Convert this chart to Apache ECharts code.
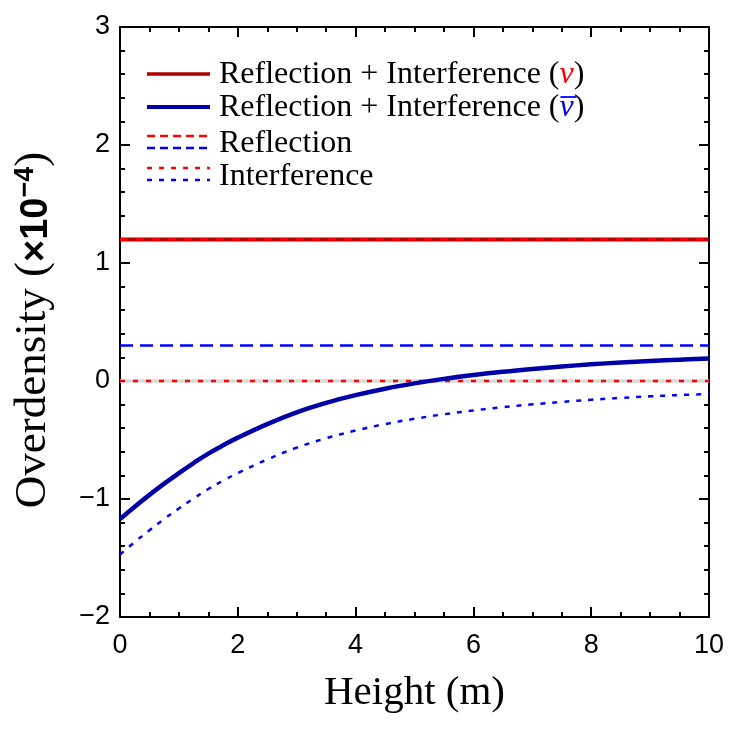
<!DOCTYPE html>
<html>
<head>
<meta charset="utf-8">
<script src="https://cdn.jsdelivr.net/npm/echarts@6/dist/echarts.min.js"></script>
<style>html,body{margin:0;padding:0;background:#fff}#c{width:747px;height:737px}</style>
</head>
<body>
<div id="c"></div>
<script>
// ---- data ----
var heights = [0,0.25,0.5,0.75,1,1.25,1.5,1.75,2,2.5,3,3.5,4,4.5,5,5.5,6,6.5,7,7.5,8,8.5,9,9.5,10];
var totalAntiNu = [-1.17,-1.065,-0.965,-0.87,-0.78,-0.695,-0.615,-0.545,-0.48,-0.365,-0.265,-0.185,-0.12,-0.065,-0.02,0.018,0.05,0.078,0.102,0.123,0.141,0.157,0.17,0.181,0.19];
var interferenceAntiNu = [-1.47,-1.365,-1.265,-1.17,-1.08,-0.995,-0.915,-0.845,-0.78,-0.665,-0.565,-0.485,-0.42,-0.365,-0.32,-0.282,-0.25,-0.222,-0.198,-0.177,-0.159,-0.143,-0.13,-0.119,-0.11];
var flatX = [0, 10];
var totalNu = [1.2, 1.2];
var reflectionNu = [1.2, 1.2];
var interferenceNu = [0, 0];
var reflectionAntiNu = [0.3, 0.3];
var zeroLine = [0, 0];
var xTicks = {min: 0, max: 10, interval: 2};
var yTicks = {min: -2, max: 3, interval: 1};

function pairs(xs, ys) { return xs.map(function (x, i) { return [x, ys[i]]; }); }

var chart = echarts.init(document.getElementById('c'));
var serif = 'Liberation Serif';
var sans = 'Liberation Sans';

function axisCommon(extra) {
  var o = {
    type: 'value',
    axisLine: {show: true, onZero: false, lineStyle: {color: '#000', width: 2}},
    axisTick: {show: true, inside: true, length: 10, lineStyle: {color: '#000', width: 2}},
    splitLine: {show: false},
    minorSplitLine: {show: false}
  };
  for (var k in extra) o[k] = extra[k];
  return o;
}
function minus(v) { return v < 0 ? '\u2212' + Math.abs(v) : String(v); }

var legendFont = 32;
var legendY = [75, 108, 144, 177];
var lx1 = 147, lx2 = 210, tx = 219;

// measure where the nu-bar glyph sits, to put its overline above it
var mctx = document.createElement('canvas').getContext('2d');
mctx.font = legendFont + 'px "Liberation Serif"';
var preW = mctx.measureText('Reflection + Interference (').width;
mctx.font = 'italic ' + legendFont + 'px "Liberation Serif"';
var nuW = mctx.measureText('\u03BD').width;

var option = {
  animation: false,
  backgroundColor: '#fff',
  grid: {left: 120, right: 38, top: 27, bottom: 120},
  xAxis: [
    axisCommon({min: xTicks.min, max: xTicks.max, interval: xTicks.interval, position: 'bottom',
      minorTick: {show: true, splitNumber: 4, length: 5, lineStyle: {color: '#000', width: 2}},
      axisLabel: {fontFamily: sans, fontSize: 27, color: '#000', margin: 15},
      name: 'Height (m)', nameLocation: 'middle', nameGap: 56,
      nameTextStyle: {fontFamily: serif, fontSize: 41, color: '#000'}}),
    axisCommon({min: xTicks.min, max: xTicks.max, interval: xTicks.interval, position: 'top',
      minorTick: {show: true, splitNumber: 4, length: 5, lineStyle: {color: '#000', width: 2}},
      axisLabel: {show: false}})
  ],
  yAxis: [
    axisCommon({min: yTicks.min, max: yTicks.max, interval: yTicks.interval, position: 'left',
      minorTick: {show: true, splitNumber: 5, length: 5, lineStyle: {color: '#000', width: 2}},
      axisLabel: {fontFamily: sans, fontSize: 27, color: '#000', margin: 10, formatter: minus},
      name: '{a|Overdensity (}{b|\u00D710}{c|\u22124}{a|)}', nameLocation: 'middle', nameGap: 64, nameRotate: 90,
      nameTextStyle: {color: '#000', padding: [0, 16, 0, 0], rich: {
        a: {fontFamily: serif, fontSize: 45, color: '#000', verticalAlign: 'bottom', lineHeight: 50},
        b: {fontFamily: sans, fontSize: 38, fontWeight: 'bold', color: '#000', verticalAlign: 'bottom', lineHeight: 50},
        c: {fontFamily: sans, fontSize: 27, fontWeight: 'bold', color: '#000', verticalAlign: 'bottom', lineHeight: 50, padding: [0, 0, 17, 0]}
      }}}),
    axisCommon({min: yTicks.min, max: yTicks.max, interval: yTicks.interval, position: 'right',
      minorTick: {show: true, splitNumber: 5, length: 5, lineStyle: {color: '#000', width: 2}},
      axisLabel: {show: false}})
  ],
  series: [
    {type: 'line', data: pairs(flatX, zeroLine), symbol: 'none', lineStyle: {color: '#d9d9d9', width: 3.5}, z: 1},
    {type: 'line', data: pairs(flatX, totalNu), symbol: 'none', lineStyle: {color: '#b00000', width: 4}, z: 2},
    {type: 'line', data: pairs(flatX, reflectionNu), symbol: 'none', lineStyle: {color: '#ff0000', width: 2.5, type: [8, 8]}, z: 3},
    {type: 'line', data: pairs(flatX, interferenceNu), symbol: 'none', lineStyle: {color: '#ff0000', width: 2.5, type: [5, 8]}, z: 3},
    {type: 'line', data: pairs(flatX, reflectionAntiNu), symbol: 'none', lineStyle: {color: '#0000ff', width: 2.5, type: [13, 7]}, z: 3},
    {type: 'line', data: pairs(heights, interferenceAntiNu), symbol: 'none', smooth: 0.4, lineStyle: {color: '#0000ff', width: 2.5, type: [5, 7]}, z: 3},
    {type: 'line', data: pairs(heights, totalAntiNu), symbol: 'none', smooth: 0.4, lineStyle: {color: '#0000a8', width: 4.5}, z: 4}
  ],
  graphic: [
    {type: 'line', shape: {x1: lx1, y1: legendY[0] - 1, x2: lx2, y2: legendY[0] - 1}, style: {stroke: '#b00000', lineWidth: 3.5}},
    {type: 'line', shape: {x1: lx1, y1: legendY[1] - 1, x2: lx2, y2: legendY[1] - 1}, style: {stroke: '#0000a8', lineWidth: 4}},
    {type: 'line', shape: {x1: lx1, y1: legendY[2] - 8, x2: lx2, y2: legendY[2] - 8}, style: {stroke: '#ff0000', lineWidth: 2.5, lineDash: [8, 5]}},
    {type: 'line', shape: {x1: lx1, y1: legendY[2] + 4, x2: lx2, y2: legendY[2] + 4}, style: {stroke: '#0000ff', lineWidth: 2.5, lineDash: [8, 5]}},
    {type: 'line', shape: {x1: lx1, y1: legendY[3] - 9, x2: lx2, y2: legendY[3] - 9}, style: {stroke: '#ff0000', lineWidth: 2.5, lineDash: [5, 7]}},
    {type: 'line', shape: {x1: lx1, y1: legendY[3] + 3, x2: lx2, y2: legendY[3] + 3}, style: {stroke: '#0000ff', lineWidth: 2.5, lineDash: [5, 7]}},
    {type: 'text', x: tx, y: legendY[0], style: {text: '{a|Reflection + Interference (}{r|\u03BD}{a|)}', verticalAlign: 'middle',
      rich: {a: {fontFamily: serif, fontSize: legendFont, fill: '#000'}, r: {fontFamily: serif, fontSize: legendFont, fontStyle: 'italic', fill: '#ff0000'}}}},
    {type: 'text', x: tx, y: legendY[1], style: {text: '{a|Reflection + Interference (}{r|\u03BD}{a|)}', verticalAlign: 'middle',
      rich: {a: {fontFamily: serif, fontSize: legendFont, fill: '#000'}, r: {fontFamily: serif, fontSize: legendFont, fontStyle: 'italic', fill: '#0000ff'}}}},
    {type: 'line', shape: {x1: tx + preW + 1, y1: legendY[1] - 11, x2: tx + preW + nuW + 3, y2: legendY[1] - 11}, style: {stroke: '#0000ff', lineWidth: 1.8}},
    {type: 'text', x: tx, y: legendY[2], style: {text: 'Reflection', verticalAlign: 'middle', font: legendFont + 'px "Liberation Serif"', fill: '#000'}},
    {type: 'text', x: tx, y: legendY[3], style: {text: 'Interference', verticalAlign: 'middle', font: legendFont + 'px "Liberation Serif"', fill: '#000'}}
  ]
};
chart.setOption(option);
</script>
</body>
</html>
